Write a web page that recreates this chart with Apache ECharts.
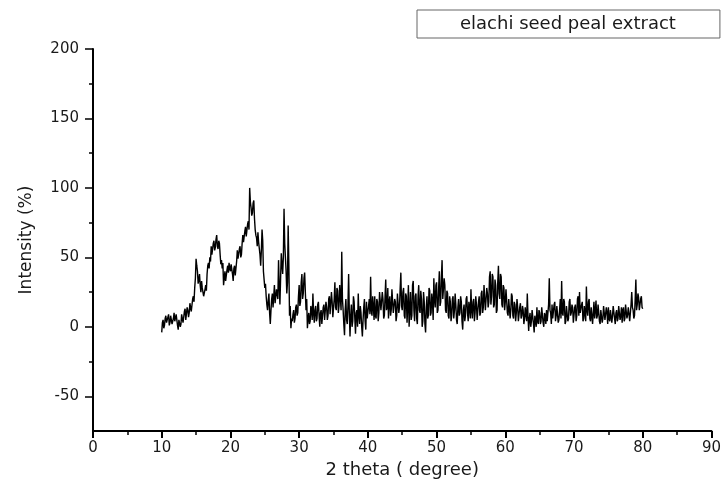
<!DOCTYPE html>
<html>
<head>
<meta charset="utf-8">
<script src="https://cdn.jsdelivr.net/npm/echarts@6/dist/echarts.min.js"></script>
<style>html,body{margin:0;padding:0;background:#fff;}#chart{width:724px;height:485px;}</style>
</head>
<body>
<div id="chart"></div>
<script>
// 2 theta starts at 10 degrees, sampled every 0.1 degree up to 80
const thetaStart = 10;
const thetaStep = 0.1;
// Intensity (%), 10 values per degree
const intensity10to30 = [
  -4, 3, 5, -1, 1, 6, 8, 3, 2, 7,
  9, 1, 3, 8, 7, 2, 1, 6, 10, 4,
  4, 9, 8, 1, -2, 5, 6, 0, 2, 9,
  10, 3, 4, 11, 13, 5, 6, 14, 12, 7,
  10, 17, 16, 11, 12, 20, 22, 18, 28, 35,
  49, 44, 40, 31, 34, 38, 30, 25, 33, 28,
  25, 22, 21, 27, 30, 26, 38, 44, 46, 42,
  50, 47, 58, 52, 53, 60, 62, 55, 57, 63,
  66, 58, 56, 62, 60, 52, 45, 48, 42, 46,
  30, 35, 40, 33, 34, 41, 44, 39, 46, 42,
  40, 45, 46, 38, 33, 42, 44, 37, 38, 47,
  55, 49, 48, 56, 58, 50, 52, 60, 66, 61,
  60, 69, 72, 65, 64, 74, 76, 70, 100, 90,
  86, 80, 82, 89, 91, 78, 70, 66, 64, 58,
  68, 61, 60, 52, 44, 55, 70, 62, 40, 34,
  28, 31, 22, 16, 12, 19, 24, 10, 2, 12,
  20, 24, 14, 22, 30, 17, 18, 27, 26, 20,
  48, 30, 16, 35, 53, 45, 38, 50, 85, 60,
  50, 40, 24, 32, 73, 45, 8, 15, -1, 6,
  4, 9, 12, 3, 6, 14, 16, 8, 10, 22
];
const intensity30to50 = [
  30, 15, 18, 32, 38, 20, 24, 35, 39, 25,
  12, 20, -1, 6, 10, 2, 4, 15, 12, 5,
  24, 10, 3, 12, 15, 4, 6, 16, 18, 8,
  0, 10, 12, 2, 3, 14, 16, 5, 6, 18,
  14, 5, 8, 20, 22, 9, 10, 25, 18, 7,
  6, 20, 32, 14, 12, 28, 26, 10, 15, 30,
  30, 12, 54, 20, 12, 2, -6, 12, 20, 5,
  2, 15, 38, 10, -7, 8, 16, 0, 4, 22,
  18, 6, -5, 10, 12, 0, 24, 8, 2, 15,
  10, 0, -7, 5, 14, 20, 4, -2, 18, 6,
  6, 15, 20, 9, 36, 12, 8, 22, 15, 5,
  22, 8, 6, 20, 18, 4, 10, 25, 24, 12,
  12, 25, 20, 6, 8, 22, 34, 12, 14, 28,
  6, 18, 22, 8, 12, 27, 26, 10, 10, 20,
  18, 4, 8, 24, 25, 10, 14, 28, 39, 15,
  12, 25, 28, 8, 6, 24, 22, 3, 15, 30,
  0, 12, 25, 5, 8, 30, 33, 12, 4, 22,
  24, 6, 2, 22, 30, 12, 10, 26, 20, 0,
  4, 25, 18, 2, -4, 14, 22, 6, 8, 28,
  26, 8, 10, 24, 18, 5, 35, 20, 14, 30
];
const intensity50to70 = [
  32, 10, 12, 28, 40, 15, 18, 36, 48, 20,
  20, 35, 30, 12, 10, 26, 24, 8, 6, 22,
  18, 4, 8, 20, 22, 6, 12, 24, 16, 5,
  2, 14, 20, 8, 10, 22, 18, 4, -2, 12,
  16, 4, 8, 20, 22, 10, 4, 18, 14, 6,
  27, 12, 6, 18, 20, 4, 10, 22, 16, 5,
  4, 18, 22, 8, 10, 24, 26, 10, 14, 30,
  30, 12, 12, 28, 24, 14, 18, 36, 40, 16,
  22, 38, 36, 14, 16, 34, 30, 10, 12, 32,
  44, 24, 20, 38, 36, 16, 14, 30, 28, 12,
  18, 27, 26, 10, 8, 20, 20, 6, 12, 24,
  22, 8, 6, 18, 16, 4, 10, 20, 14, 4,
  4, 14, 17, 6, 8, 15, 12, 2, 6, 14,
  14, 4, 24, 8, -3, 6, 10, 0, 4, 12,
  12, 2, -4, 8, 8, 0, 14, 4, 2, 12,
  10, 2, 4, 14, 14, 3, 0, 10, 8, 2,
  12, 4, 4, 16, 35, 12, 10, 2, 16, 6,
  6, 16, 18, 4, 8, 15, 14, 3, 5, 12,
  20, 6, 33, 10, 8, 20, 18, 2, 4, 15,
  15, 4, 6, 18, 20, 8, 10, 16, 14, 3
];
const intensity70to80 = [
  4, 14, 16, 4, 8, 20, 22, 8, 25, 10,
  10, 16, 18, 4, 6, 15, 14, 4, 29, 12,
  8, 18, 20, 6, 4, 14, 14, 2, 10, 18,
  6, 12, 19, 6, 8, 16, 16, 4, 2, 12,
  12, 3, 6, 15, 16, 5, 4, 14, 10, 2,
  14, 6, 4, 12, 12, 3, 8, 15, 16, 6,
  2, 10, 12, 4, 6, 15, 15, 5, 8, 14,
  3, 12, 14, 4, 6, 16, 15, 6, 9, 14,
  14, 4, 5, 16, 25, 14, 12, 6, 8, 20,
  34, 12, 16, 24, 21, 12, 13, 20, 22, 14,
  13
];
const seriesName = 'elachi seed peal extract';
const yLabelValues = [-50, 0, 50, 100, 150, 200];
const yMinorValues = [-25, 25, 75, 125, 175];

const intensity = [].concat(intensity10to30, intensity30to50, intensity50to70, intensity70to80);
const points = intensity.map((v, i) => [+(thetaStart + i * thetaStep).toFixed(2), v]);

const txt = '#1a1a1a';
const font = 'DejaVu Sans';
const chart = echarts.init(document.getElementById('chart'), null, {renderer: 'canvas'});
chart.setOption({
  animation: false,
  backgroundColor: '#fff',
  grid: {left: 93, right: 11, top: 49, bottom: 54, containLabel: false},
  legend: {
    data: [{name: seriesName, icon: 'none'}],
    left: 417, top: 10,
    itemWidth: 0, itemHeight: 0, itemGap: 0,
    padding: [5, 44, 5, 38],
    borderColor: '#666', borderWidth: 1,
    selectedMode: false,
    textStyle: {fontFamily: font, fontSize: 18, color: txt}
  },
  xAxis: {
    type: 'value', min: 0, max: 90, interval: 10,
    name: '2 theta ( degree)', nameLocation: 'middle', nameGap: 30,
    nameTextStyle: {fontFamily: font, fontSize: 18, color: txt},
    axisLine: {onZero: false, lineStyle: {color: '#000', width: 2}},
    axisTick: {length: 7, lineStyle: {color: '#000', width: 2}},
    minorTick: {show: true, splitNumber: 2, length: 4, lineStyle: {color: '#000', width: 1.5}},
    axisLabel: {fontFamily: font, fontSize: 15, color: txt, margin: 10},
    splitLine: {show: false}
  },
  yAxis: [{
    type: 'value', min: -75, max: 200,
    name: 'Intensity (%)', nameLocation: 'middle', nameGap: 58,
    nameTextStyle: {fontFamily: font, fontSize: 17, color: txt},
    axisLine: {show: true, onZero: false, lineStyle: {color: '#000', width: 2}},
    axisTick: {show: true, length: 8, customValues: yLabelValues, lineStyle: {color: '#000', width: 1.5}},
    axisLabel: {fontFamily: font, fontSize: 15, color: txt, margin: 14, customValues: yLabelValues},
    splitLine: {show: false}
  }, {
    type: 'value', min: -75, max: 200, position: 'left',
    axisLine: {show: false, onZero: false},
    axisTick: {show: true, length: 4, customValues: yMinorValues, lineStyle: {color: '#000', width: 1.5}},
    axisLabel: {show: false},
    splitLine: {show: false}
  }],
  series: [{
    name: seriesName,
    type: 'line',
    data: points,
    showSymbol: false,
    symbol: 'none',
    yAxisIndex: 0,
    lineStyle: {color: '#000', width: 1.4},
    itemStyle: {color: '#000'}
  }]
});
</script>
</body>
</html>
